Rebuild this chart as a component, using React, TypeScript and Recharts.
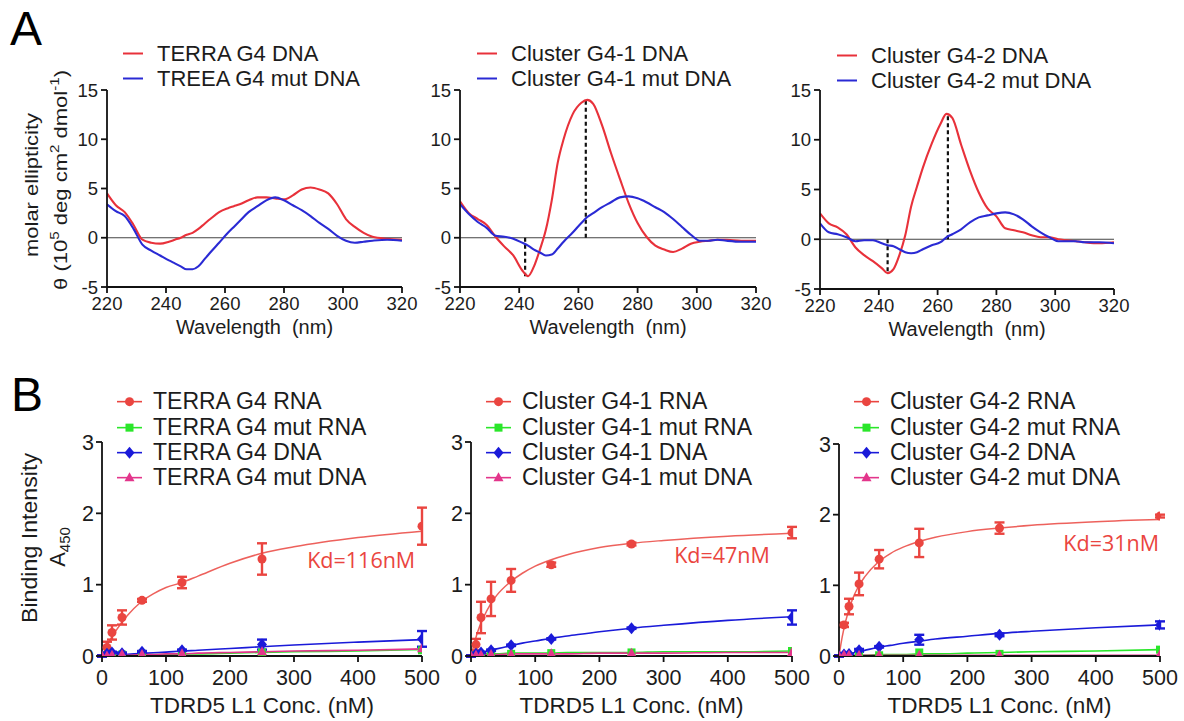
import React from 'react';
import {
  ComposedChart,
  Line,
  Scatter,
  XAxis,
  YAxis,
  ReferenceLine,
  ReferenceDot,
  ErrorBar,
  Legend,
} from 'recharts';

const FONT = '"Liberation Sans", Arial, sans-serif';
const KD_FONT = '"Open Sans", "Liberation Sans", sans-serif';

// ---------- Panel A: CD spectra ----------
const cdWavelength = [220, 223, 226, 229, 232, 235, 238, 241, 243, 245, 247, 249, 251, 253, 255, 258, 261, 263, 265, 268, 271, 274, 277, 280, 283, 286, 289, 292, 295, 298, 301, 304, 307, 310, 315, 320];
const terraDnaCD = [4.5, 3.3, 2.6, 1.3, -0.2, -0.5, -0.6, -0.4, -0.2, 0.0, 0.3, 0.5, 0.9, 1.4, 1.9, 2.6, 3.0, 3.2, 3.4, 3.8, 4.1, 4.1, 4.0, 3.9, 4.3, 4.9, 5.1, 4.9, 4.5, 3.4, 1.9, 1.1, 0.5, 0.1, -0.1, -0.2];
const terraMutDnaCD = [3.4, 2.7, 2.2, 0.9, -0.7, -1.3, -1.8, -2.3, -2.6, -2.9, -3.2, -3.2, -2.9, -2.2, -1.5, -0.5, 0.5, 1.1, 1.7, 2.6, 3.2, 3.8, 4.1, 3.8, 3.3, 2.8, 2.2, 1.5, 0.9, 0.2, -0.3, -0.5, -0.4, -0.3, -0.2, -0.3];
const cluster1DnaCD = [3.7, 2.5, 1.9, 1.3, 0.1, -0.9, -1.8, -3.3, -3.9, -2.9, -1.2, 0.8, 3.8, 7.6, 10.0, 12.5, 13.7, 14.0, 13.6, 11.4, 8.6, 6.0, 3.5, 1.5, 0.1, -0.8, -1.2, -1.45, -1.1, -0.6, -0.4, -0.3, -0.2, -0.2, -0.3, -0.3];
const cluster1MutDnaCD = [3.4, 2.4, 1.6, 1.0, 0.2, 0.1, -0.1, -0.5, -0.8, -1.2, -1.5, -1.8, -1.7, -1.1, -0.4, 0.5, 1.5, 2.1, 2.5, 3.1, 3.6, 4.1, 4.2, 4.0, 3.6, 3.1, 2.6, 1.9, 1.1, 0.3, -0.3, -0.3, -0.2, -0.3, -0.4, -0.4];
const cluster2DnaCD = [2.6, 1.6, 1.2, 0.5, -0.8, -1.6, -2.2, -2.9, -3.4, -3.0, -1.6, 0.4, 3.3, 5.3, 7.2, 9.6, 11.6, 12.6, 12.2, 9.5, 6.9, 4.7, 3.1, 2.3, 1.1, 0.9, 0.7, 0.4, 0.2, 0.2, 0.0, -0.1, -0.2, -0.3, -0.4, -0.3];
const cluster2MutDnaCD = [1.6, 0.7, 0.5, 0.2, -0.2, -0.1, -0.1, -0.4, -0.6, -0.7, -1.0, -1.3, -1.4, -1.3, -1.0, -0.6, -0.3, 0.2, 0.5, 1.0, 1.7, 2.2, 2.4, 2.6, 2.7, 2.5, 2.0, 1.3, 0.7, 0.2, -0.2, -0.2, -0.2, -0.3, -0.3, -0.4];
const cluster1DashX = [242, 262.5];
const cluster1DashY = [-3.9, 14.0];
const cluster2DashX = [243, 263.5];
const cluster2DashY = [-3.4, 12.6];
const cdTicksX = [220, 240, 260, 280, 300, 320];
const cdTicksY = [-5, 0, 5, 10, 15];

// ---------- Panel B: binding ----------
const concNM = [0, 7.8, 15.6, 31.25, 62.5, 125, 250, 500];
const fitConc = [0, 5, 10, 20, 30, 40, 60, 80, 100, 125, 150, 200, 250, 300, 400, 500];
const bTicksX = [0, 100, 200, 300, 400, 500];
const bTicksY = [0, 1, 2, 3];

const terraRnaPts = [0, 0.12, 0.33, 0.54, 0.78, 1.03, 1.36, 1.82];
const terraRnaErr = [0.01, 0.08, 0.1, 0.1, 0.02, 0.08, 0.22, 0.26];
const terraRnaFit = [0, 0.09, 0.18, 0.33, 0.46, 0.57, 0.75, 0.87, 0.96, 1.03, 1.12, 1.3, 1.44, 1.53, 1.66, 1.75];
const terraMutRnaPts = [0, 0.01, 0.01, 0.02, 0.03, 0.03, 0.05, 0.08];
const terraMutRnaFit = [0, 0, 0.01, 0.01, 0.01, 0.01, 0.02, 0.02, 0.02, 0.03, 0.03, 0.04, 0.05, 0.06, 0.07, 0.09];
const terraDnaPts = [0, 0.03, 0.05, 0.04, 0.06, 0.08, 0.16, 0.24];
const terraDnaErr = [0.01, 0.01, 0.01, 0.01, 0.01, 0.01, 0.07, 0.11];
const terraDnaFit = [0, 0.005, 0.01, 0.015, 0.02, 0.025, 0.035, 0.045, 0.055, 0.07, 0.08, 0.105, 0.13, 0.155, 0.195, 0.23];
const terraMutDnaPts = [0, 0, 0.01, 0.02, 0.02, 0.03, 0.06, 0.1];
const terraMutDnaFit = [0, 0, 0.01, 0.01, 0.01, 0.01, 0.02, 0.02, 0.03, 0.03, 0.04, 0.05, 0.06, 0.07, 0.08, 0.1];

const cluster1RnaPts = [0, 0.16, 0.54, 0.8, 1.06, 1.28, 1.57, 1.73];
const cluster1RnaErr = [0.01, 0.08, 0.22, 0.24, 0.16, 0.03, 0.02, 0.08];
const cluster1RnaFit = [0, 0.17, 0.33, 0.55, 0.72, 0.85, 1.03, 1.16, 1.26, 1.35, 1.42, 1.52, 1.58, 1.62, 1.68, 1.72];
const cluster1MutRnaPts = [0, 0.01, 0.01, 0.02, 0.03, 0.04, 0.05, 0.07];
const cluster1MutRnaFit = [0, 0.01, 0.02, 0.03, 0.03, 0.03, 0.04, 0.04, 0.04, 0.04, 0.05, 0.05, 0.05, 0.06, 0.06, 0.07];
const cluster1DnaPts = [0, 0.03, 0.05, 0.08, 0.15, 0.24, 0.39, 0.54];
const cluster1DnaErr = [0.01, 0.01, 0.01, 0.01, 0.01, 0.01, 0.01, 0.1];
const cluster1DnaFit = [0, 0.01, 0.03, 0.05, 0.08, 0.1, 0.14, 0.18, 0.21, 0.25, 0.28, 0.34, 0.39, 0.43, 0.5, 0.55];
const cluster1MutDnaPts = [0, 0.01, 0.01, 0.02, 0.02, 0.03, 0.04, 0.05];
const cluster1MutDnaFit = [0, 0.01, 0.01, 0.02, 0.02, 0.02, 0.03, 0.03, 0.03, 0.03, 0.03, 0.04, 0.04, 0.04, 0.05, 0.05];

const cluster2RnaPts = [0, 0.44, 0.7, 1.02, 1.37, 1.6, 1.81, 1.98];
const cluster2RnaErr = [0.01, 0.03, 0.11, 0.16, 0.13, 0.2, 0.08, 0.02];
const cluster2RnaFit = [0, 0.27, 0.48, 0.78, 0.98, 1.12, 1.32, 1.45, 1.54, 1.62, 1.68, 1.76, 1.81, 1.85, 1.9, 1.93];
const cluster2MutRnaPts = [0, 0, 0, 0.01, 0.01, 0.05, 0.03, 0.09];
const cluster2MutRnaFit = [0, 0, 0, 0.01, 0.01, 0.01, 0.02, 0.02, 0.02, 0.03, 0.03, 0.04, 0.05, 0.06, 0.07, 0.09];
const cluster2DnaPts = [0, 0.02, 0.03, 0.08, 0.13, 0.23, 0.3, 0.44];
const cluster2DnaErr = [0.01, 0.01, 0.01, 0.02, 0.01, 0.07, 0.02, 0.05];
const cluster2DnaFit = [0, 0.01, 0.02, 0.04, 0.06, 0.08, 0.12, 0.15, 0.18, 0.21, 0.24, 0.28, 0.32, 0.35, 0.4, 0.44];
const cluster2MutDnaPts = [0, 0.01, 0.01, 0.01, 0.01, 0.01, 0.01, 0.02];
const cluster2MutDnaFit = [0, 0, 0.01, 0.01, 0.01, 0.01, 0.01, 0.01, 0.01, 0.01, 0.01, 0.01, 0.01, 0.01, 0.01, 0.01];

const kdLabels = ['Kd=116nM', 'Kd=47nM', 'Kd=31nM'];
const kdLabelX = [405, 391, 424];
const kdLabelY = [1.34, 1.41, 1.59];

// ---------- styles ----------
const CD_RED = '#e8313a';
const CD_BLUE = '#2a2ad4';
const B_RED = '#ea4540';
const B_GREEN = '#2ae62a';
const B_BLUE = '#1a1ad9';
const B_MAGENTA = '#e3358b';
const AX = '#111111';
const TXT = '#1c1c1c';

type Pt = { x: number; y: number; e?: number };
const pairs = (xs: number[], ys: number[], es?: number[]): Pt[] =>
  xs.map((x, i) => (es ? { x, y: ys[i], e: es[i] } : { x, y: ys[i] }));

type Kind = 'circle' | 'square' | 'diamond' | 'triangle';
function marker(kind: Kind, cx: number, cy: number, color: string) {
  if (cx == null || cy == null || isNaN(cx) || isNaN(cy)) return <g />;
  if (kind === 'circle') return <circle cx={cx} cy={cy} r={4.5} fill={color} />;
  if (kind === 'square') return <rect x={cx - 4} y={cy - 4} width={8} height={8} fill={color} />;
  if (kind === 'diamond')
    return <polygon points={`${cx},${cy - 6} ${cx + 5},${cy} ${cx},${cy + 6} ${cx - 5},${cy}`} fill={color} />;
  return <polygon points={`${cx},${cy - 5.5} ${cx + 5},${cy + 3.5} ${cx - 5},${cy + 3.5}`} fill={color} />;
}

type LegendItem = { label: string; color: string; kind?: Kind };
function LegendList({ items, lineW, gap, rowH, fontSize }: { items: LegendItem[]; lineW: number; gap: number; rowH: number; fontSize: number }) {
  return (
    <div style={{ fontFamily: FONT, fontSize, color: TXT }}>
      {items.map((it) => (
        <div key={it.label} style={{ display: 'flex', alignItems: 'center', height: rowH, whiteSpace: 'nowrap' }}>
          <svg width={lineW} height={rowH} style={{ flex: 'none', display: 'block' }}>
            <line x1={0} x2={lineW} y1={rowH / 2} y2={rowH / 2} stroke={it.color} strokeWidth={it.kind ? 1.6 : 2} />
            {it.kind ? marker(it.kind, lineW / 2, rowH / 2, it.color) : null}
          </svg>
          <span style={{ marginLeft: gap, lineHeight: `${rowH}px` }}>{it.label}</span>
        </div>
      ))}
    </div>
  );
}

const axisStroke = { stroke: AX, strokeWidth: 1.8 };

function CDPanel(props: {
  left: number;
  plotW: number;
  plotH: number;
  red: number[];
  blue: number[];
  names: string[];
  dashX?: number[];
  dashY?: number[];
  legendLeft: number;
  legendTop: number;
}) {
  const { left, plotW, plotH, red, blue, names, dashX, dashY, legendLeft, legendTop } = props;
  const mTop = 60;
  const yW = 50;
  const mRight = 20;
  const xH = 47;
  const redData = pairs(cdWavelength, red);
  const blueData = pairs(cdWavelength, blue);
  return (
    <div style={{ position: 'absolute', left, top: 30 }}>
      <ComposedChart
        width={yW + plotW + mRight}
        height={mTop + plotH + xH + 5}
        margin={{ top: mTop, right: mRight, bottom: 5, left: 0 }}
      >
        <XAxis
          type="number"
          dataKey="x"
          domain={[220, 320]}
          ticks={cdTicksX}
          allowDataOverflow
          height={xH}
          tickSize={6}
          tickMargin={4}
          axisLine={axisStroke}
          tickLine={axisStroke}
          tick={{ fontSize: 18.5, fill: TXT }}
          label={{ value: 'Wavelength\u00a0 (nm)', position: 'insideBottom', offset: 0, fontSize: 20, fill: TXT }}
        />
        <YAxis
          type="number"
          domain={[-5, 15]}
          ticks={cdTicksY}
          allowDataOverflow
          width={yW}
          tickSize={6}
          tickMargin={3}
          axisLine={axisStroke}
          tickLine={axisStroke}
          tick={{ fontSize: 18.5, fill: TXT }}
        />
        <ReferenceLine y={0} stroke="#444" strokeWidth={1} />
        {(dashX || []).map((dx, i) => (
          <ReferenceLine
            key={`d${i}`}
            segment={[
              { x: dx, y: 0 },
              { x: dx, y: (dashY || [])[i] },
            ]}
            stroke="#111"
            strokeWidth={2.2}
            strokeDasharray="4 3"
          />
        ))}
        <Line data={redData} dataKey="y" name={names[0]} type="monotone" stroke={CD_RED} strokeWidth={2.1} dot={false} activeDot={false} isAnimationActive={false} />
        <Line data={blueData} dataKey="y" name={names[1]} type="monotone" stroke={CD_BLUE} strokeWidth={2.1} dot={false} activeDot={false} isAnimationActive={false} />
        <Legend
          layout="vertical"
          align="center"
          verticalAlign="middle"
          wrapperStyle={{ left: legendLeft, top: legendTop, width: 320, height: 'auto' }}
          content={() => (
            <LegendList
              items={[
                { label: names[0], color: CD_RED },
                { label: names[1], color: CD_BLUE },
              ]}
              lineW={20}
              gap={14}
              rowH={25}
              fontSize={22}
            />
          )}
        />
      </ComposedChart>
    </div>
  );
}

type Group = { name: string; pts: number[]; err?: number[]; fit: number[]; color: string; kind: Kind };

function BindPanel(props: {
  left: number;
  top: number;
  plotW: number;
  plotH: number;
  groups: Group[];
  kdIndex: number;
}) {
  const { left, top, plotW, plotH, groups, kdIndex } = props;
  const mTop = 442 - top + (plotH < 214 ? 214 - plotH : 0);
  const yW = 50;
  const mRight = 20;
  const xH = 57;
  return (
    <div style={{ position: 'absolute', left, top }}>
      <ComposedChart
        width={yW + plotW + mRight}
        height={mTop + plotH + xH + 5}
        margin={{ top: mTop, right: mRight, bottom: 5, left: 0 }}
      >
        <XAxis
          type="number"
          dataKey="x"
          domain={[0, 500]}
          ticks={bTicksX}
          allowDataOverflow
          height={xH}
          tickSize={6}
          tickMargin={8}
          axisLine={axisStroke}
          tickLine={axisStroke}
          tick={{ fontSize: 21.5, fill: TXT }}
          label={{ value: 'TDRD5 L1 Conc. (nM)', position: 'insideBottom', offset: 0, fontSize: 22.5, fill: TXT }}
        />
        <YAxis
          type="number"
          domain={[0, 3]}
          ticks={bTicksY}
          allowDataOverflow
          width={yW}
          tickSize={6}
          tickMargin={2}
          axisLine={axisStroke}
          tickLine={axisStroke}
          tick={{ fontSize: 21.5, fill: TXT }}
        />
        {groups.map((g) => (
          <Line
            key={`fit-${g.name}`}
            data={pairs(fitConc, g.fit)}
            dataKey="y"
            name={`${g.name} fit`}
            legendType="none"
            type="monotone"
            stroke={g.color}
            strokeWidth={g.kind === 'circle' ? 1.5 : 1.6}
            strokeOpacity={g.kind === 'circle' ? 0.85 : 1}
            dot={false}
            activeDot={false}
            isAnimationActive={false}
          />
        ))}
        {groups.map((g) => (
          <Scatter
            key={`pts-${g.name}`}
            data={pairs(concNM, g.pts, g.err)}
            dataKey="y"
            name={g.name}
            fill={g.color}
            isAnimationActive={false}
            shape={(p: any) => marker(g.kind, p.cx, p.cy, g.color)}
          >
            {g.err ? (
              <ErrorBar dataKey="e" direction="y" width={5} stroke={g.color} strokeWidth={2.4} isAnimationActive={false} />
            ) : null}
          </Scatter>
        ))}
        <ReferenceDot
          x={kdLabelX[kdIndex]}
          y={kdLabelY[kdIndex]}
          r={0}
          fill="none"
          stroke="none"
          label={{ value: kdLabels[kdIndex], position: 'center', fill: B_RED, fontSize: 21.5, fontFamily: KD_FONT }}
        />
        <Legend
          layout="vertical"
          align="center"
          verticalAlign="middle"
          wrapperStyle={{ left: 65, top: 4.4, width: 340, height: 'auto' }}
          content={() => (
            <LegendList
              items={groups.map((g) => ({ label: g.name, color: g.color, kind: g.kind }))}
              lineW={25}
              gap={11}
              rowH={25.3}
              fontSize={23}
            />
          )}
        />
      </ComposedChart>
    </div>
  );
}

const terraGroups: Group[] = [
  { name: 'TERRA G4 RNA', pts: terraRnaPts, err: terraRnaErr, fit: terraRnaFit, color: B_RED, kind: 'circle' },
  { name: 'TERRA G4 mut RNA', pts: terraMutRnaPts, fit: terraMutRnaFit, color: B_GREEN, kind: 'square' },
  { name: 'TERRA G4 DNA', pts: terraDnaPts, err: terraDnaErr, fit: terraDnaFit, color: B_BLUE, kind: 'diamond' },
  { name: 'TERRA G4 mut DNA', pts: terraMutDnaPts, fit: terraMutDnaFit, color: B_MAGENTA, kind: 'triangle' },
];
const cluster1Groups: Group[] = [
  { name: 'Cluster G4-1 RNA', pts: cluster1RnaPts, err: cluster1RnaErr, fit: cluster1RnaFit, color: B_RED, kind: 'circle' },
  { name: 'Cluster G4-1 mut RNA', pts: cluster1MutRnaPts, fit: cluster1MutRnaFit, color: B_GREEN, kind: 'square' },
  { name: 'Cluster G4-1 DNA', pts: cluster1DnaPts, err: cluster1DnaErr, fit: cluster1DnaFit, color: B_BLUE, kind: 'diamond' },
  { name: 'Cluster G4-1 mut DNA', pts: cluster1MutDnaPts, fit: cluster1MutDnaFit, color: B_MAGENTA, kind: 'triangle' },
];
const cluster2Groups: Group[] = [
  { name: 'Cluster G4-2 RNA', pts: cluster2RnaPts, err: cluster2RnaErr, fit: cluster2RnaFit, color: B_RED, kind: 'circle' },
  { name: 'Cluster G4-2 mut RNA', pts: cluster2MutRnaPts, fit: cluster2MutRnaFit, color: B_GREEN, kind: 'square' },
  { name: 'Cluster G4-2 DNA', pts: cluster2DnaPts, err: cluster2DnaErr, fit: cluster2DnaFit, color: B_BLUE, kind: 'diamond' },
  { name: 'Cluster G4-2 mut DNA', pts: cluster2MutDnaPts, fit: cluster2MutDnaFit, color: B_MAGENTA, kind: 'triangle' },
];

export default function App() {
  return (
    <div
      style={{
        position: 'absolute',
        left: 0,
        top: 0,
        width: 1184,
        height: 721,
        background: '#ffffff',
        fontFamily: FONT,
        overflow: 'hidden',
      }}
    >
      <svg width={1184} height={721} style={{ position: 'absolute', left: 0, top: 0 }}>
        <text x={10} y={45} fontSize={48} fill="#000" fontFamily={FONT}>A</text>
        <text x={11} y={411} fontSize={48} fill="#000" fontFamily={FONT}>B</text>
        <text transform="translate(38,185) rotate(-90)" textAnchor="middle" fontSize={19} fill={TXT} fontFamily={FONT} textLength={144} lengthAdjust="spacingAndGlyphs">
          molar ellipticity
        </text>
        <text transform="translate(67,180) rotate(-90)" textAnchor="middle" fontSize={19} fill={TXT} fontFamily={FONT} textLength={220} lengthAdjust="spacingAndGlyphs">
          θ (10<tspan fontSize={13} dy={-8}>5</tspan>
          <tspan dy={8}> deg cm</tspan>
          <tspan fontSize={13} dy={-8}>2</tspan>
          <tspan dy={8}> dmol</tspan>
          <tspan fontSize={13} dy={-8}>-1</tspan>
          <tspan dy={8}>)</tspan>
        </text>
        <text transform="translate(37,538) rotate(-90)" textAnchor="middle" fontSize={22} fill={TXT} fontFamily={FONT} textLength={170} lengthAdjust="spacingAndGlyphs">
          Binding Intensity
        </text>
        <text transform="translate(65,547) rotate(-90)" textAnchor="middle" fontSize={22} fill={TXT} fontFamily={FONT}>
          A<tspan fontSize={15} dy={5}>450</tspan>
        </text>
      </svg>

      <CDPanel left={57} plotW={295} plotH={197} red={terraDnaCD} blue={terraMutDnaCD} names={['TERRA G4 DNA', 'TREEA G4 mut DNA']} legendLeft={66} legendTop={10.5} />
      <CDPanel left={410} plotW={296} plotH={197} red={cluster1DnaCD} blue={cluster1MutDnaCD} names={['Cluster G4-1 DNA', 'Cluster G4-1 mut DNA']} dashX={cluster1DashX} dashY={cluster1DashY} legendLeft={67} legendTop={10.5} />
      <CDPanel left={770} plotW={294} plotH={199} red={cluster2DnaCD} blue={cluster2MutDnaCD} names={['Cluster G4-2 DNA', 'Cluster G4-2 mut DNA']} dashX={cluster2DashX} dashY={cluster2DashY} legendLeft={67} legendTop={12.5} />

      <BindPanel left={52} top={385} plotW={320} plotH={214} groups={terraGroups} kdIndex={0} />
      <BindPanel left={421} top={385} plotW={321} plotH={214} groups={cluster1Groups} kdIndex={1} />
      <BindPanel left={789} top={385} plotW={321} plotH={212} groups={cluster2Groups} kdIndex={2} />
    </div>
  );
}
